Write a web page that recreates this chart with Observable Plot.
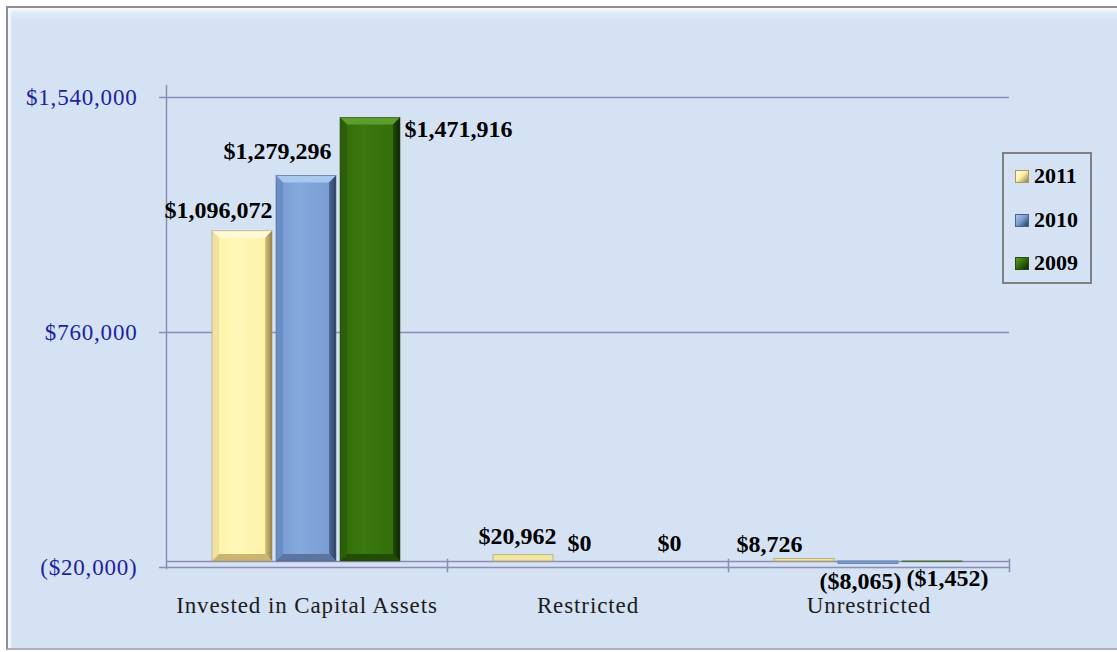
<!DOCTYPE html>
<html>
<head>
<meta charset="utf-8">
<script src="https://cdn.jsdelivr.net/npm/d3@7"></script>
<script src="https://cdn.jsdelivr.net/npm/@observablehq/plot@0.6"></script>
<style>
  html, body { margin: 0; padding: 0; background: #ffffff; }
  #wrap { position: relative; width: 1117px; height: 652px; overflow: hidden; }
  #panel {
    position: absolute; left: 6px; top: 6px; width: 1120px; height: 640px;
    background: #d4e2f4;
    border-top: 2px solid #8e8e8e; border-left: 2px solid #8e8e8e; border-bottom: 2px solid #a9b0ba;
    box-shadow: inset 3px 3px 2px #f6f9fd, inset 0 16px 10px -8px #e4edf8;
  }
  #chart { position: absolute; left: 0; top: 0; }
  #chart svg { overflow: visible; }
  #chart g[aria-label="y-axis tick label"] text { letter-spacing: 0.8px; }
  #chart g[aria-label="fx-axis tick label"] text { letter-spacing: 0.9px; }
  #legend {
    position: absolute; left: 1002px; top: 152px; width: 86px; height: 128px;
    border: 2px solid #808080; background: #d4e2f4;
    font-family: "Liberation Serif", serif; font-weight: bold; font-size: 22px; color: #000;
  }
  .item { position: absolute; left: 11px; height: 24px; display: flex; align-items: center; }
  .sw { width: 14px; height: 13px; margin-right: 5px; box-sizing: border-box; }
</style>
</head>
<body>
<div id="wrap">
  <div id="panel"></div>
  <div id="chart"></div>
  <div id="legend"></div>
</div>
<script>
// ---- data ----
const categories = ["Invested in Capital Assets", "Restricted", "Unrestricted"];
const years = ["2011", "2010", "2009"];
const values2011 = [1096072, 20962, 8726];
const values2010 = [1279296, 0, -8065];
const values2009 = [1471916, 0, -1452];
const yTicks = [-20000, 760000, 1540000];

// ---- layout / style (separate from data) ----
const labelOffsets = {
  "Invested in Capital Assets|2011": [-24, -21],
  "Invested in Capital Assets|2010": [-29, -25],
  "Invested in Capital Assets|2009": [88, 11],
  "Restricted|2011": [-6, -19],
  "Restricted|2010": [-8, -18],
  "Restricted|2009": [18, -18],
  "Unrestricted|2011": [-35, -15],
  "Unrestricted|2010": [-8, 17],
  "Unrestricted|2009": [15, 16]
};
const palette = {
  "2011": {face: "#fff3a9", faceHi: "#fff6b8", left: "#efe2a2", rightIn: "#d9c67f", rightOut: "#8f8048",
           top: "#fffbd8", bottom: "#c9b471", outline: "#a79a63", small: "#f3e6a4", smallStroke: "#b3a56a"},
  "2010": {face: "#7a9ed4", faceHi: "#86a9dc", left: "#6a8dc3", rightIn: "#4e6a96", rightOut: "#2c3f60",
           top: "#a9c8f0", bottom: "#5a75a2", outline: "#4c6286", small: "#7a9ed4", smallStroke: "#5d78a3"},
  "2009": {face: "#356e0b", faceHi: "#3b780e", left: "#2c5f09", rightIn: "#214a07", rightOut: "#0e2502",
           top: "#5f9c2e", bottom: "#224d06", outline: "#274a10", small: "#3d6a1e", smallStroke: "#4d6a3a"}
};
const bevel = 7;
const lineColor = "#8c8cb4";
const tickBlue = "#1f1f9c";
const serif = "Liberation Serif, Times New Roman, serif";

const seriesValues = {"2011": values2011, "2010": values2010, "2009": values2009};
const rows = years.flatMap(yr => categories.map((c, i) => ({category: c, year: yr, value: seriesValues[yr][i]})));

const fmtMoney = v => v < 0 ? "($" + d3.format(",")(-v) + ")" : "$" + d3.format(",")(v);

const barMarks = years.flatMap(yr => {
  const p = palette[yr];
  const big = rows.filter(d => d.year === yr && Math.abs(d.value) > 100000);
  const small = rows.filter(d => d.year === yr && Math.abs(d.value) <= 100000);
  const base = {fx: "category", x: "year", y: "value"};
  return [
    Plot.barY(big, {...base, fill: `url(#bevel-${yr})`}),
    Plot.barY(small, {...base, fill: p.small, stroke: p.smallStroke, strokeWidth: 0.8})
  ];
});

const labelMarks = rows.map(d => {
  const [dx, dy] = labelOffsets[d.category + "|" + d.year];
  return Plot.text([d], {
    fx: "category", x: "year", y: "value", text: r => fmtMoney(r.value),
    dx, dy, fontSize: 24, fontWeight: "bold", fontFamily: serif, fill: "#000"
  });
});

const chart = Plot.plot({
  width: 1117,
  height: 652,
  marginLeft: 165,
  marginRight: 107,
  marginTop: 97,
  marginBottom: 85,
  style: {background: "transparent", fontFamily: serif, overflow: "visible"},
  fx: {domain: categories, padding: 0},
  x: {domain: years, paddingInner: 0.0615, paddingOuter: 0.708, axis: null},
  y: {domain: [-20000, 1540000], axis: null},
  marks: [
    Plot.ruleY([760000, 1540000], {stroke: lineColor, strokeWidth: 1.5}),
    Plot.ruleY([0, -20000], {stroke: lineColor, strokeWidth: 1.5}),
    Plot.frame({anchor: "right", stroke: lineColor, strokeWidth: 1.5, insetTop: 462, insetBottom: -4}),
    Plot.frame({anchor: "left", facetAnchor: "left", stroke: lineColor, strokeWidth: 1.5, insetTop: -12, insetBottom: -1}),
    Plot.axisY({
      ticks: yTicks, tickFormat: fmtMoney, tickSize: 7, tickPadding: 22,
      stroke: lineColor, strokeWidth: 1.5, fill: tickBlue, fontSize: 23, fontFamily: serif, label: null
    }),
    Plot.axisFx({
      anchor: "bottom", tickSize: 0, tickPadding: 29, fontSize: 23, fontFamily: serif,
      fill: "#1c1c1c", label: null
    }),
    ...barMarks,
    ...labelMarks
  ]
});
document.getElementById("chart").appendChild(chart);

// ---- bevel decoration of the bars Plot drew ----
const svg = d3.select(chart);
const defs = svg.insert("defs", ":first-child");
years.forEach(yr => {
  const p = palette[yr];
  const gb = defs.append("linearGradient").attr("id", "bevel-" + yr);
  gb.append("stop").attr("offset", 0).attr("stop-color", p.face);
  gb.append("stop").attr("offset", 1).attr("stop-color", p.face);
  const gr = defs.append("linearGradient").attr("id", "right-" + yr)
    .attr("x1", 0).attr("x2", 1).attr("y1", 0).attr("y2", 0);
  gr.append("stop").attr("offset", 0).attr("stop-color", p.rightIn);
  gr.append("stop").attr("offset", 1).attr("stop-color", p.rightOut);
  const gf = defs.append("linearGradient").attr("id", "face-" + yr)
    .attr("x1", 0).attr("x2", 1).attr("y1", 0).attr("y2", 0);
  gf.append("stop").attr("offset", 0).attr("stop-color", p.face);
  gf.append("stop").attr("offset", 0.35).attr("stop-color", p.faceHi);
  gf.append("stop").attr("offset", 1).attr("stop-color", p.face);
});
years.forEach(yr => {
  const p = palette[yr];
  svg.selectAll(`g[fill="url(#bevel-${yr})"] rect`).each(function () {
    const r = d3.select(this);
    const x = +r.attr("x"), y = +r.attr("y"), w = +r.attr("width"), h = +r.attr("height");
    const b = bevel;
    const parent = d3.select(this.parentNode);
    const poly = (pts, fill) => parent.append("polygon")
      .attr("points", pts.map(q => q.join(",")).join(" "))
      .attr("fill", fill).attr("stroke", "none");
    parent.append("rect").attr("x", x + b).attr("y", y + b).attr("width", w - 2 * b).attr("height", h - 2 * b)
      .attr("fill", `url(#face-${yr})`).attr("stroke", "none");
    poly([[x, y], [x + w, y], [x + w - b, y + b], [x + b, y + b]], p.top);
    poly([[x, y], [x + b, y + b], [x + b, y + h - b], [x, y + h]], p.left);
    poly([[x + w, y], [x + w, y + h], [x + w - b, y + h - b], [x + w - b, y + b]], `url(#right-${yr})`);
    poly([[x, y + h], [x + b, y + h - b], [x + w - b, y + h - b], [x + w, y + h]], p.bottom);
    parent.append("rect").attr("x", x).attr("y", y).attr("width", w).attr("height", h)
      .attr("fill", "none").attr("stroke", p.outline).attr("stroke-width", 0.8).attr("stroke-opacity", 0.7);
  });
});

// ---- legend ----
const legend = document.getElementById("legend");
const legendTops = [10, 54, 97];
years.forEach((yr, i) => {
  const p = palette[yr];
  const item = document.createElement("div");
  item.className = "item";
  item.style.top = legendTops[i] + "px";
  const sw = document.createElement("div");
  sw.className = "sw";
  sw.style.background = `linear-gradient(135deg, ${p.top} 0%, ${p.face} 45%, ${p.rightOut} 100%)`;
  sw.style.border = `1px solid ${p.outline}`;
  const t = document.createElement("span");
  t.textContent = yr;
  item.appendChild(sw);
  item.appendChild(t);
  legend.appendChild(item);
});
</script>
</body>
</html>
